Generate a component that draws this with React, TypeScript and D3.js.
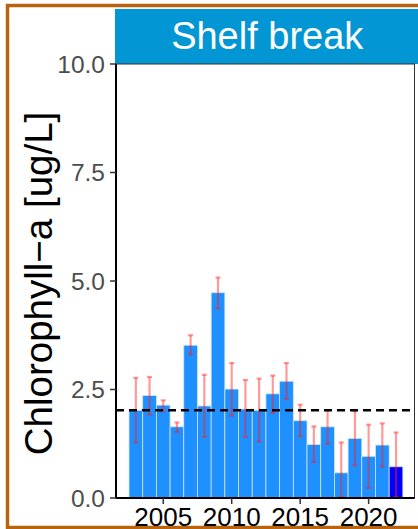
import React from "react";
import * as d3 from "d3";

const years = [2003, 2004, 2005, 2006, 2007, 2008, 2009, 2010, 2011, 2012, 2013, 2014, 2015, 2016, 2017, 2018, 2019, 2020, 2021, 2022];
const means = [2.02, 2.36, 2.14, 1.64, 3.52, 2.12, 4.73, 2.51, 2.05, 2.02, 2.40, 2.69, 1.78, 1.23, 1.64, 0.58, 1.37, 0.96, 1.22, 0.72];
const uppers = [2.77, 2.79, 2.25, 1.74, 3.75, 2.84, 5.08, 3.11, 2.72, 2.75, 2.82, 3.11, 2.15, 1.65, 2.02, 1.28, 2.0, 1.69, 1.72, 1.51];
const lowers = [1.28, 1.92, 2.0, 1.52, 3.31, 1.41, 4.37, 1.90, 1.41, 1.30, 1.96, 2.28, 1.42, 0.83, 1.25, 0.02, 0.75, 0.23, 0.72, 0.02];
const refLine = 2.02;
const yTicks = [0, 2.5, 5, 7.5, 10];
const xTicks = [2005, 2010, 2015, 2020];
const highlightYear = 2022;
const stripLabel = "Shelf break";
const yTitle = "Chlorophyll\u2212a [ug/L]";

export default function App() {
  const W = 418, H = 529;
  const left = 116, right = 414.5, top = 64, bottom = 498;
  const x = d3.scaleLinear().domain([2001.55, 2023.35]).range([left, right]);
  const y = d3.scaleLinear().domain([0, 10]).range([bottom, top]);
  const bw = x(1) - x(0);
  const font = "'Liberation Sans', Arial, sans-serif";
  return (
    <svg width={W} height={H} style={{ position: "absolute", left: 0, top: 0, background: "white" }}>
      <rect x={7.5} y={5.5} width={420} height={522} fill="white" stroke="#B8640F" strokeWidth={3.5} />
      {/* strip */}
      <rect x={115} y={9} width={310} height={top - 9} fill="#0396D4" />
      <text x={(left + right) / 2 + 2} y={49} textAnchor="middle" fill="white" fontSize={38} fontFamily={font}>{stripLabel}</text>
      {/* panel */}
      <rect x={left} y={top} width={right - left} height={bottom - top} fill="white" stroke="#333" strokeWidth={1} />
      {years.map((yr, i) => (
        <rect key={yr} x={x(yr) - bw / 2} y={y(means[i])} width={bw} height={y(0) - y(means[i])}
          fill={yr === highlightYear ? "#0000FF" : "#1E90FF"} stroke="#CFE3F7" strokeWidth={0.8} />
      ))}
      {years.map((yr, i) => (
        <g key={"e" + yr} stroke="#FF2020" strokeOpacity={0.45} strokeWidth={2.2}>
          <line x1={x(yr)} x2={x(yr)} y1={y(uppers[i])} y2={y(lowers[i])} />
          <line x1={x(yr) - 2.5} x2={x(yr) + 2.5} y1={y(uppers[i])} y2={y(uppers[i])} />
          <line x1={x(yr) - 2.5} x2={x(yr) + 2.5} y1={y(lowers[i])} y2={y(lowers[i])} />
        </g>
      ))}
      <line x1={left} x2={right} y1={y(refLine)} y2={y(refLine)} stroke="black" strokeWidth={2.5} strokeDasharray="8,5" />
      {/* axes */}
      <line x1={left} x2={left} y1={top} y2={bottom} stroke="black" strokeWidth={2} />
      <line x1={left} x2={right} y1={bottom} y2={bottom} stroke="black" strokeWidth={2} />
      {yTicks.map((t) => (
        <g key={"y" + t}>
          <line x1={left - 6} x2={left} y1={y(t)} y2={y(t)} stroke="#333" strokeWidth={1.5} />
          <text x={105} y={y(t) + 8.5} textAnchor="end" fontSize={24.5} fill="#4D4D4D" fontFamily={font}>{t.toFixed(1)}</text>
        </g>
      ))}
      {xTicks.map((t) => (
        <g key={"x" + t}>
          <line x1={x(t)} x2={x(t)} y1={bottom} y2={bottom + 6} stroke="#333" strokeWidth={1.5} />
          <text x={x(t)} y={525.5} textAnchor="middle" fontSize={26} fill="black" fontFamily={font}>{t}</text>
        </g>
      ))}
      <text transform={`translate(52, 283.5) rotate(-90)`} textAnchor="middle" fontSize={38.5} fill="black" fontFamily={font}>{yTitle}</text>
    </svg>
  );
}
